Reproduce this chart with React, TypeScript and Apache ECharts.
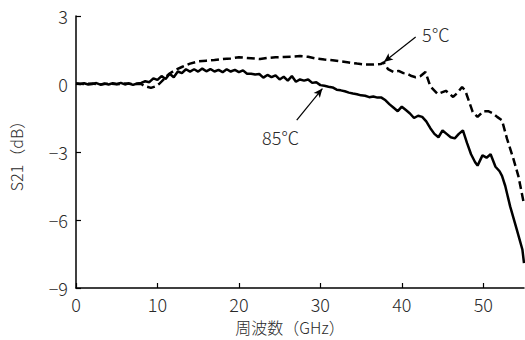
import React, { useEffect, useRef } from "react";
import * as echarts from "echarts";

const xTicks = [0, 10, 20, 30, 40, 50];
const yTicks = [3, 0, -3, -6, -9];

// 85℃ (solid)
const hotX = [0, 0.5, 1, 1.5, 2, 2.5, 3, 3.5, 4, 4.5, 5, 5.5, 6, 6.5, 7, 7.5, 8, 8.5, 9, 9.5, 10, 10.5, 11, 11.5, 12, 12.5, 13, 13.5, 14, 14.5, 15, 15.5, 16, 16.5, 17, 17.5, 18, 18.5, 19, 19.5, 20, 20.5, 21, 21.5, 22, 22.5, 23, 23.5, 24, 24.5, 25, 25.5, 26, 26.5, 27, 27.5, 28, 28.5, 29, 29.5, 30, 30.5, 31, 31.5, 32, 32.5, 33, 33.5, 34, 34.5, 35, 35.5, 36, 36.5, 37, 37.5, 38, 38.5, 39, 39.5, 40, 40.5, 41, 41.5, 42, 42.5, 43, 43.5, 44, 44.5, 45, 45.5, 46, 46.5, 47, 47.5, 48, 48.5, 49, 49.3, 49.9, 50.4, 50.9, 51.5, 52, 52.3, 52.7, 53.3, 54.1, 54.8, 55];
const hotY = [0.02, 0.0, 0.03, -0.02, 0.0, 0.04, -0.03, 0.02, -0.02, 0.03, 0.0, 0.05, -0.02, 0.03, -0.04, 0.02, 0.05, 0.12, 0.08, 0.25, 0.18, 0.35, 0.22, 0.45, 0.3, 0.55, 0.48, 0.65, 0.55, 0.65, 0.55, 0.68, 0.56, 0.66, 0.55, 0.62, 0.52, 0.65, 0.55, 0.62, 0.52, 0.6, 0.45, 0.45, 0.42, 0.44, 0.28, 0.4, 0.3, 0.38, 0.2, 0.32, 0.15, 0.35, 0.1, 0.2, 0.15, 0.2, 0.05, 0.08, -0.05, -0.08, -0.12, -0.15, -0.25, -0.28, -0.32, -0.38, -0.42, -0.45, -0.5, -0.52, -0.58, -0.55, -0.6, -0.6, -0.72, -0.9, -1.05, -1.2, -1.0, -1.15, -1.3, -1.5, -1.4, -1.45, -1.65, -1.95, -2.2, -2.35, -2.05, -2.2, -2.35, -2.4, -2.2, -2.05, -2.6, -3.1, -3.45, -3.6, -3.15, -3.25, -3.1, -3.65, -3.85, -4.05, -4.5, -5.4, -6.4, -7.3, -7.9];

// 5℃ (dashed)
const coldX = [0, 1, 2, 3, 4, 5, 6, 7, 8, 8.5, 9.2, 9.8, 10.2, 10.8, 11.4, 12.2, 13, 14, 15, 16, 17, 18, 19, 20, 21, 22, 22.6, 23.5, 24.5, 25.5, 26.5, 27.5, 28.5, 29.5, 30.5, 31.5, 32.5, 33.5, 34.5, 35.5, 36.5, 37.4, 37.8, 38.3, 39, 39.6, 40.2, 40.7, 41.2, 41.7, 42.3, 42.9, 43.5, 44.4, 45.4, 46.3, 46.8, 47.4, 47.8, 48.7, 49.3, 50, 50.6, 51.2, 51.7, 52.3, 52.9, 53.7, 54.3, 55];
const coldY = [0.02, 0.0, 0.02, -0.02, 0.02, -0.01, 0.02, 0.0, 0.0, -0.1, -0.17, -0.1, 0.0, 0.22, 0.44, 0.62, 0.75, 0.9, 1.0, 1.03, 1.06, 1.1, 1.13, 1.18, 1.15, 1.12, 1.1, 1.15, 1.18, 1.19, 1.2, 1.23, 1.2, 1.12, 1.08, 1.05, 1.0, 0.95, 0.9, 0.86, 0.86, 0.88, 0.95, 0.66, 0.53, 0.58, 0.48, 0.44, 0.35, 0.3, 0.35, 0.53, -0.1, -0.44, -0.3, -0.57, -0.4, -0.13, -0.3, -1.23, -1.45, -1.2, -1.2, -1.3, -1.45, -1.6, -2.4, -3.3, -4.05, -5.3];

const coldLabel = "5℃";
const hotLabel = "85℃";
const coldArrow = [[41.7, 2.07], [37.8, 0.97]];
const hotArrow = [[27.1, -1.59], [30.25, -0.2]];

const FONT = "'Noto Sans CJK JP', 'Noto Sans', sans-serif";
const TXT = "#2a2a2a";

export default function App() {
  const ref = useRef<HTMLDivElement>(null);
  useEffect(() => {
    const chart = echarts.init(ref.current!, null, { renderer: "svg" });
    const arrowLine = (pts: number[][]) => ({
      silent: true,
      symbol: ["none", "arrow"],
      symbolSize: [6, 9],
      label: { show: false },
      lineStyle: { color: "#000", width: 1.2, type: "solid" },
      data: [[{ coord: pts[0] }, { coord: pts[1] }]],
    });
    chart.setOption({
      animation: false,
      backgroundColor: "#fff",
      textStyle: { fontFamily: FONT },
      grid: { left: 73, right: 1, top: 16, bottom: 52, containLabel: false },
      xAxis: {
        type: "value",
        min: 0,
        max: 55,
        interval: 10,
        name: "周波数（GHz）",
        nameLocation: "middle",
        nameGap: 31,
        nameTextStyle: { fontSize: 16, color: TXT, fontWeight: 300, fontFamily: FONT, padding: [0, 20, 0, 0] },
        axisLine: { show: true, onZero: false, lineStyle: { color: "#000", width: 1.5 } },
        axisTick: { show: true, inside: true, length: 5, customValues: xTicks, lineStyle: { color: "#000", width: 1.2 } },
        axisLabel: { customValues: xTicks, fontSize: 18, color: TXT, fontWeight: 300, margin: 7, fontFamily: FONT },
        splitLine: { show: false },
      },
      yAxis: {
        type: "value",
        min: -9,
        max: 3,
        interval: 3,
        name: "S21（dB）",
        nameLocation: "middle",
        nameGap: 52,
        nameTextStyle: { fontSize: 16, color: TXT, fontWeight: 300, fontFamily: FONT },
        axisLine: { show: true, onZero: false, lineStyle: { color: "#000", width: 1.5 } },
        axisTick: { show: true, inside: true, length: 5, customValues: yTicks, lineStyle: { color: "#000", width: 1.2 } },
        axisLabel: {
          customValues: yTicks,
          fontSize: 18,
          color: TXT,
          fontWeight: 300,
          margin: 8,
          fontFamily: FONT,
          formatter: (v: number) => String(v).replace("-", "−"),
        },
        splitLine: { show: false },
      },
      graphic: [
        { type: "text", left: 422, top: 25, style: { text: coldLabel, fontSize: 18, fontWeight: 300, fill: TXT, fontFamily: FONT } },
        { type: "text", left: 262, top: 128, style: { text: hotLabel, fontSize: 18, fontWeight: 300, fill: TXT, fontFamily: FONT } },
      ],
      series: [
        {
          name: hotLabel,
          type: "line",
          data: hotX.map((x, i) => [x, hotY[i]]),
          showSymbol: false,
          smooth: false,
          lineStyle: { color: "#000", width: 2.5 },
          markLine: arrowLine(hotArrow),
          z: 3,
        },
        {
          name: coldLabel,
          type: "line",
          data: coldX.map((x, i) => [x, coldY[i]]),
          showSymbol: false,
          smooth: false,
          lineStyle: { color: "#000", width: 2.5, type: [8, 4] },
          markLine: arrowLine(coldArrow),
          z: 2,
        },
      ],
    });
    return () => chart.dispose();
  }, []);
  return <div ref={ref} style={{ width: 525, height: 340, position: "absolute", left: 0, top: 0 }} />;
}
